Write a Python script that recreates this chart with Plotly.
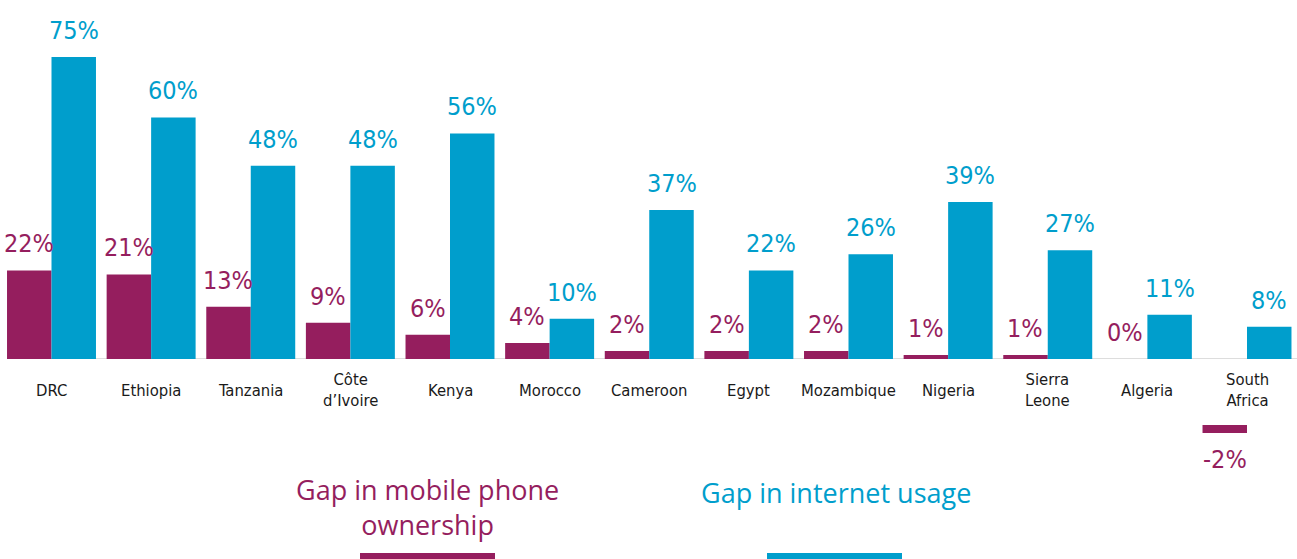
import plotly.graph_objects as go

countries = ["DRC", "Ethiopia", "Tanzania", "Côte d’Ivoire", "Kenya", "Morocco",
             "Cameroon", "Egypt", "Mozambique", "Nigeria", "Sierra Leone",
             "Algeria", "South Africa"]
ownership_gap = [22, 21, 13, 9, 6, 4, 2, 2, 2, 1, 1, 0, -2]
internet_gap = [75, 60, 48, 48, 56, 10, 37, 22, 26, 39, 27, 11, 8]

series_names = ["Gap in mobile phone<br>ownership", "Gap in internet usage"]
MAROON = "#951E5E"
BLUE = "#009ECC"

W, H = 1297, 559
PX_PER_PCT = 4.027
ZERO_TOP = 359
ZERO_BOT = 425
BOT_END = 472

NARROW = "DejaVu Sans Condensed, Roboto, Liberation Sans, sans-serif"

fig = go.Figure()
for xa, ya in [("x", "y"), ("x2", "y2")]:
    fig.add_trace(go.Bar(x=countries, y=ownership_gap, marker_color=MAROON,
                         marker_line_width=0, xaxis=xa, yaxis=ya,
                         name="ownership", showlegend=False, hoverinfo="skip"))
    fig.add_trace(go.Bar(x=countries, y=internet_gap, marker_color=BLUE,
                         marker_line_width=0, xaxis=xa, yaxis=ya,
                         name="internet", showlegend=False, hoverinfo="skip"))

annotations = []
for i, c in enumerate(countries):
    for v, shift, col in [(ownership_gap[i], -22.3, MAROON), (internet_gap[i], 22.3, BLUE)]:
        vf = dict(family=NARROW, size=25, color=col)
        if v >= 0:
            annotations.append(dict(x=c, y=v, xref="x", yref="y", xshift=shift,
                                    yanchor="bottom", yshift=10, showarrow=False,
                                    text=f"{v}%", font=vf))
        else:
            annotations.append(dict(x=c, y=v, xref="x2", yref="y2", xshift=shift,
                                    yanchor="top", yshift=-10, showarrow=False,
                                    text=f"{v}%", font=vf))
    annotations.append(dict(x=c, y=1 - 390 / H, xref="x", yref="paper",
                            yanchor="middle", showarrow=False,
                            text=c.replace(" ", "<br>"),
                            font=dict(family=NARROW, size=16.5, color="#1a1a1a")))

annotations.append(dict(x=427 / W, y=1 - 507 / H, xref="paper", yref="paper",
                        xanchor="center", yanchor="middle", showarrow=False,
                        text=series_names[0],
                        font=dict(family="Open Sans", size=27, color=MAROON)))
annotations.append(dict(x=836 / W, y=1 - 492 / H, xref="paper", yref="paper",
                        xanchor="center", yanchor="middle", showarrow=False,
                        text=series_names[1],
                        font=dict(family="Open Sans", size=27, color=BLUE)))

shapes = [
    dict(type="line", xref="paper", yref="y", x0=7 / W, x1=1, y0=0, y1=0,
         line=dict(color="#dddddd", width=2), layer="below"),
    dict(type="line", xref="paper", yref="y2", x0=8 / W, x1=1, y0=0.25, y1=0.25,
         line=dict(color="#dddddd", width=2), layer="below"),
    dict(type="rect", xref="paper", yref="paper", x0=360 / W, x1=495 / W,
         y0=0, y1=6 / H, fillcolor=MAROON, line_width=0),
    dict(type="rect", xref="paper", yref="paper", x0=767 / W, x1=902 / W,
         y0=0, y1=6 / H, fillcolor=BLUE, line_width=0),
]

xr = [-51.5 / 99.625, (W - 51.5) / 99.625]
fig.update_layout(
    width=W, height=H, margin=dict(l=0, r=0, t=0, b=0),
    paper_bgcolor="white", plot_bgcolor="rgba(0,0,0,0)",
    barmode="group", bargap=0.107, bargroupgap=0,
    xaxis=dict(domain=[0, 1], range=xr, visible=False, anchor="y"),
    yaxis=dict(domain=[1 - ZERO_TOP / H, 1], range=[0, ZERO_TOP / PX_PER_PCT],
               visible=False, anchor="x"),
    xaxis2=dict(domain=[0, 1], range=xr, visible=False, anchor="y2", matches="x"),
    yaxis2=dict(domain=[1 - BOT_END / H, 1 - ZERO_BOT / H],
                range=[-(BOT_END - ZERO_BOT) / PX_PER_PCT, 0], visible=False, anchor="x2"),
    annotations=annotations, shapes=shapes,
)

fig.write_html("out.html")
